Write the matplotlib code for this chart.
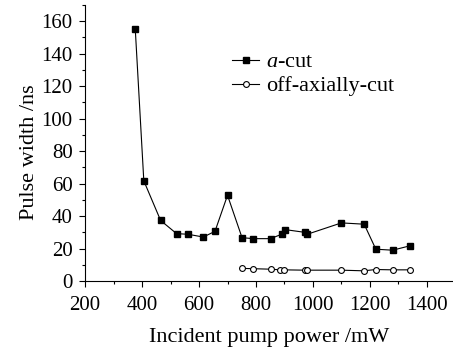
import matplotlib.pyplot as plt
from matplotlib.ticker import MultipleLocator

plt.rcParams['font.family'] = 'Liberation Serif'
plt.rcParams['mathtext.fontset'] = 'custom'
plt.rcParams['mathtext.it'] = 'Liberation Serif:italic'

# a-cut crystal
a_power = [376, 406, 465, 521, 561, 615, 656, 700, 751, 791, 851, 890, 901,
           971, 980, 1100, 1180, 1221, 1280, 1341]
a_width = [155, 61.7, 37.3, 29.2, 28.8, 27.1, 30.6, 52.8, 26.7, 26.1, 26.1,
           28.8, 31.7, 30.0, 28.8, 35.8, 35.0, 19.6, 19.0, 21.7]

# off-axially-cut crystal
off_power = [751, 791, 851, 886, 898, 971, 980, 1100, 1178, 1221, 1280, 1341]
off_width = [7.8, 7.6, 7.3, 6.9, 6.9, 6.7, 6.7, 6.7, 6.3, 7.1, 6.9, 6.9]

fig = plt.figure(figsize=(4.53, 3.5), dpi=100)
ax = fig.add_axes([0.188, 0.197, 0.812, 0.789])

ax.plot(a_power, a_width, color='black', lw=0.8, marker='s', ms=4.3,
        mfc='black', mec='black', label='$a$-cut')
ax.plot(off_power, off_width, color='black', lw=0.8, marker='o', ms=4.2,
        mfc='white', mec='black', mew=0.8, label='off-axially-cut')

ax.set_xlim(200, 1492)
ax.set_ylim(0, 170)
ax.xaxis.set_minor_locator(MultipleLocator(100))
ax.yaxis.set_minor_locator(MultipleLocator(10))
ax.set_xticks(range(200, 1401, 200))
ax.set_yticks(range(0, 161, 20))

ax.spines['top'].set_visible(False)
ax.spines['right'].set_visible(False)
ax.tick_params(which='major', direction='out', length=4, width=0.8, labelsize=15)
ax.tick_params(axis='x', which='major', pad=7)
ax.tick_params(axis='y', which='major', pad=5)
ax.tick_params(which='minor', direction='out', length=2.5, width=0.8)

ax.set_xlabel('Incident pump power /mW', fontsize=16, labelpad=9)
ax.set_ylabel('Pulse width /ns', fontsize=16)
ax.yaxis.set_label_coords(-0.125, 0.467)

ax.legend(loc='upper left', bbox_to_anchor=(0.40, 0.83), frameon=False,
          fontsize=16, handlelength=1.2, handletextpad=0.3, labelspacing=0.15,
          borderaxespad=0, borderpad=0)

fig.savefig('out.png', dpi=100)
